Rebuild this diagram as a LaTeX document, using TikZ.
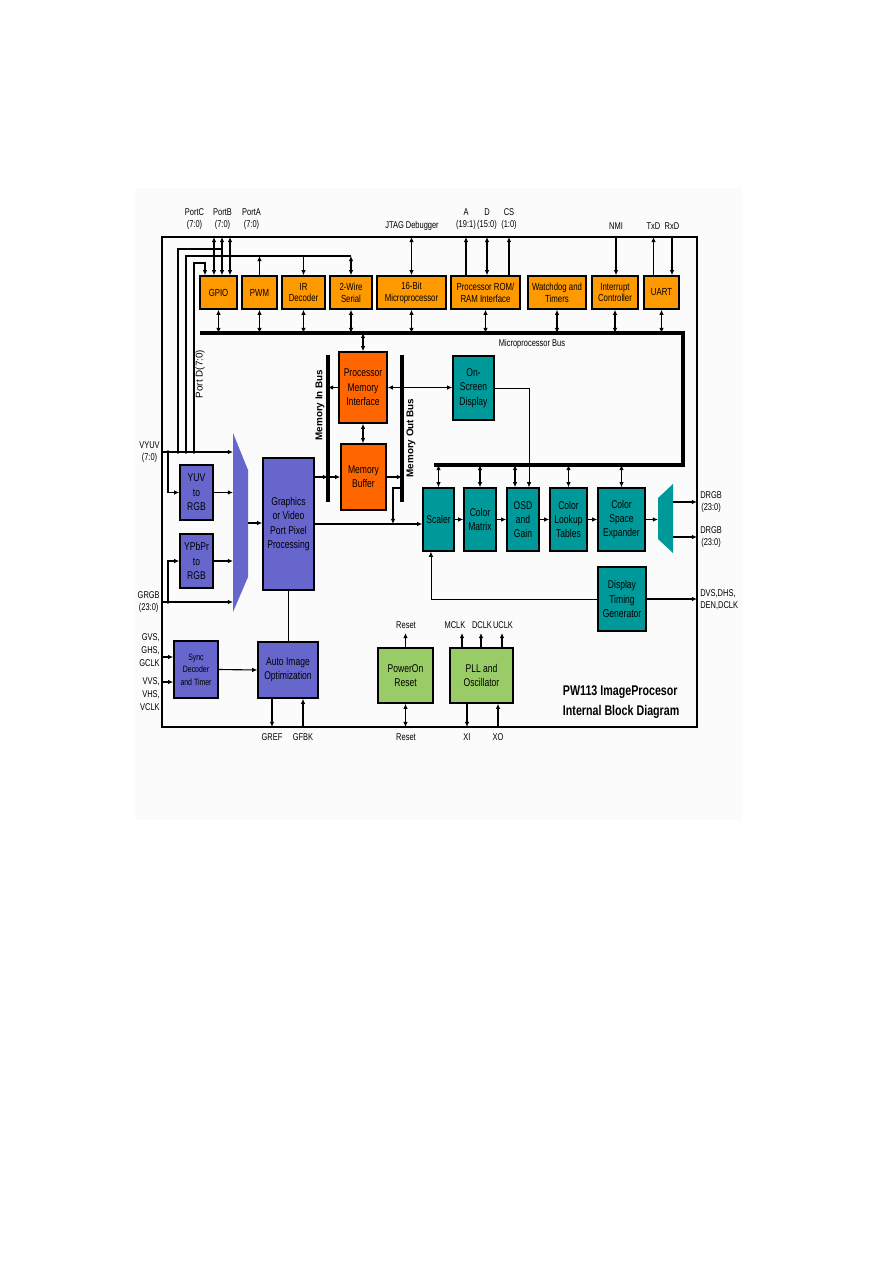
\documentclass[tikz,border=0pt]{standalone}
\usepackage{fontspec}
\setmainfont{Liberation Sans}[FakeStretch=0.76]
\newfontfamily\widesans{Liberation Sans}
\usetikzlibrary{arrows.meta}

\definecolor{procorange}{HTML}{FF9900}
\definecolor{memorange}{HTML}{FF6600}
\definecolor{vidblue}{HTML}{6666CC}
\definecolor{dispteal}{HTML}{009999}
\definecolor{clkgreen}{HTML}{99CC66}

\begin{document}
\begin{tikzpicture}[
    x=0.25mm, y=-0.25mm,
    font=\fontsize{8}{10.2}\selectfont,
    block/.style={rectangle, draw, line width=1pt, align=center, inner sep=0pt},
    cpu/.style={block, fill=procorange, font=\fontsize{7.3}{8.5}\selectfont, minimum height=8.25mm},
    mem/.style={block, fill=memorange},
    vid/.style={block, fill=vidblue},
    disp/.style={block, fill=dispteal},
    clk/.style={block, fill=clkgreen},
    pinlabel/.style={font=\fontsize{7}{8.5}\selectfont, align=center, inner sep=0pt},
    rotlabel/.style={rotate=90, font=\widesans\bfseries\fontsize{7}{8}\selectfont, inner sep=0pt},
    arrow/.style={->, line width=0.8pt},
    dblarrow/.style={<->, line width=0.8pt},
    thinarrow/.style={->, line width=0.5pt},
    wire/.style={line width=0.8pt},
    thinwire/.style={line width=0.5pt},
    bus/.style={line width=2.2pt},
    frame/.style={line width=1.3pt},
    >={Latex[length=1.3mm,width=1.15mm]}
]
    \useasboundingbox (0,0) rectangle (893,1263);
    \fill[gray!3] (135,188) rectangle (742,820);

    % chip outline
    \draw[frame] (162,237) rectangle (697,727);
    \coordinate (ftop) at (0,237);
    \coordinate (fbot) at (0,727);
    \coordinate (fright) at (697,0);

    % processor blocks
    \node[cpu, minimum width=9.25mm] (gpio) at (218.5,292.5) {GPIO};
    \node[cpu, minimum width=8.75mm] (pwm) at (259.5,292.5) {PWM};
    \node[cpu, minimum width=10.75mm] (ir) at (303.5,292.5) {IR\\Decoder};
    \node[cpu, minimum width=10.5mm] (twowire) at (351,292.5) {2-Wire\\Serial};
    \node[cpu, minimum width=17.25mm] (mcu) at (411.5,292.5) {16-Bit\\Microprocessor};
    \node[cpu, minimum width=17.25mm] (rom) at (485.5,292.5) {Processor ROM/\\RAM Interface};
    \node[cpu, minimum width=14.5mm] (wdt) at (557,292.5) {Watchdog and\\Timers};
    \node[cpu, minimum width=11.5mm] (intc) at (615,292.5) {Interrupt\\Controller};
    \node[cpu, minimum width=8.75mm] (uart) at (661.5,292.5) {UART};

    % memory blocks
    \node[mem, minimum width=12mm, minimum height=17.75mm] (pmi) at (363,387.5) {Processor\\Memory\\Interface};
    \node[mem, minimum width=11.25mm, minimum height=16.5mm] (mbuf) at (363.5,477) {Memory\\Buffer};

    % video input blocks
    \node[vid, minimum width=8.25mm, minimum height=13.75mm] (yuv) at (196.5,492.5) {YUV\\to\\RGB};
    \node[vid, minimum width=8.25mm, minimum height=13.5mm] (ypbpr) at (196.5,561) {YPbPr\\to\\RGB};
    \node[vid, minimum width=12.75mm, minimum height=33mm] (gfx) at (288.5,524) {Graphics\\or Video\\Port Pixel\\Processing};
    \node[vid, font=\fontsize{6.5}{9}\selectfont, minimum width=11mm, minimum height=14.25mm] (sync) at (196,669.5) {Sync\\Decoder\\and Timer};
    \node[vid, minimum width=15mm, minimum height=14mm] (aio) at (288,670) {Auto Image\\Optimization};

    % display blocks
    \node[disp, minimum width=10.25mm, minimum height=16mm] (osd) at (473.5,388) {On-\\Screen\\Display};
    \node[disp, minimum width=7.75mm, minimum height=15.75mm] (scaler) at (438.5,519.5) {Scaler};
    \node[disp, minimum width=8mm, minimum height=15.75mm] (cmatrix) at (480,519.5) {Color\\Matrix};
    \node[disp, minimum width=8mm, minimum height=15.75mm] (osdgain) at (523,519.5) {OSD\\and\\Gain};
    \node[disp, minimum width=9.25mm, minimum height=15.75mm] (clut) at (568.5,519.5) {Color\\Lookup\\Tables};
    \node[disp, minimum width=11.75mm, minimum height=15.75mm] (cse) at (621.5,519.5) {Color\\Space\\Expander};
    \node[disp, minimum width=12mm, minimum height=16mm] (dtg) at (622,599) {Display\\Timing\\Generator};

    % clock and reset blocks
    \node[clk, minimum width=13.75mm, minimum height=13.75mm] (por) at (405.5,675.5) {PowerOn\\Reset};
    \node[clk, minimum width=15.75mm, minimum height=13.75mm] (pll) at (481.5,675.5) {PLL and\\Oscillator};

    % multiplexers
    \fill[vidblue] (233,433) -- (248,470) -- (248,577) -- (233,612) -- cycle;
    \coordinate (vmuxL) at (233,523);
    \coordinate (vmuxR) at (248,523);
    \fill[dispteal] (658,498) -- (673,484) -- (673,553) -- (658,539) -- cycle;
    \coordinate (dmuxL) at (658,519.5);
    \coordinate (drgbA) at (673,502);
    \coordinate (drgbB) at (673,537);

    % buses
    \coordinate (mbL) at (200,333);
    \coordinate (mbR) at (683,333);
    \coordinate (dbL) at (434,465);
    \draw[bus] (mbL) -- (mbR) |- (dbL);
    \coordinate (mibT) at (328,355);
    \coordinate (mibB) at (328,502);
    \coordinate (mobT) at (402,355);
    \coordinate (mobB) at (402,502);
    \draw[bus] (mibT) -- (mibB);
    \draw[bus] (mobT) -- (mobB);
    \node[pinlabel] (mblabel) at (532,344) {Microprocessor Bus};
    \node[rotlabel] (miblabel) at (320,405) {Memory In Bus};
    \node[rotlabel] (moblabel) at (411,438) {Memory Out Bus};

    % pin labels
    \node[pinlabel] (portc) at (194.5,219) {PortC\\(7:0)};
    \node[pinlabel] (portb) at (222.5,219) {PortB\\(7:0)};
    \node[pinlabel] (porta) at (251.5,219) {PortA\\(7:0)};
    \node[pinlabel] (jtag) at (412,226) {JTAG Debugger};
    \node[pinlabel] (addr) at (466,219) {A\\(19:1)};
    \node[pinlabel] (data) at (487,219) {D\\(15:0)};
    \node[pinlabel] (cs) at (509,219) {CS\\(1:0)};
    \node[pinlabel] (nmi) at (616,226) {NMI};
    \node[pinlabel] (txd) at (653.5,226) {TxD};
    \node[pinlabel] (rxd) at (672,226) {RxD};
    \node[pinlabel, anchor=east] (vyuvlbl) at (160,452) {VYUV\\(7:0)};
    \node[pinlabel, anchor=east] (grgblbl) at (160,602) {GRGB\\(23:0)};
    \node[pinlabel, anchor=east, align=right, font=\fontsize{7}{9.2}\selectfont] (gsynclbl) at (160,650) {GVS,\\GHS,\\GCLK};
    \node[pinlabel, anchor=east, align=right, font=\fontsize{7}{9.2}\selectfont] (vsynclbl) at (160,694.5) {VVS,\\VHS,\\VCLK};
    \node[rotlabel, font=\widesans\fontsize{7}{8}\selectfont] (pdlabel) at (200,374) {Port D(7:0)};
    \node[pinlabel] (gref) at (272,737) {GREF};
    \node[pinlabel] (gfbk) at (303,737) {GFBK};
    \node[pinlabel] (rstout) at (406,625) {Reset};
    \node[pinlabel] (rstin) at (406,737) {Reset};
    \node[pinlabel] (mclk) at (455,625) {MCLK};
    \node[pinlabel] (dclk) at (482,625) {DCLK};
    \node[pinlabel] (uclk) at (503,625) {UCLK};
    \node[pinlabel] (xi) at (467,737) {XI};
    \node[pinlabel] (xo) at (498,737) {XO};
    \node[pinlabel, anchor=west] (drgbAlbl) at (700,502) {DRGB\\(23:0)};
    \node[pinlabel, anchor=west] (drgbBlbl) at (700,537) {DRGB\\(23:0)};
    \node[pinlabel, anchor=west, align=left] (dtglbl) at (700,600) {DVS,DHS,\\DEN,DCLK};
    \node[anchor=west, align=left, font=\bfseries\fontsize{10}{13.8}\selectfont] (title) at (558,702) {PW113 ImageProcesor\\Internal Block Diagram};

    % microprocessor bus taps
    \foreach \blk in {gpio,pwm,ir,twowire,mcu,rom,wdt,intc,uart}
        \draw[dblarrow] (\blk.south) -- (\blk.south |- mbL);

    % external processor pins
    \draw[dblarrow] (mcu.north |- ftop) -- (mcu.north);
    \draw[arrow] (addr |- rom.north) -- (addr |- ftop);
    \draw[dblarrow] (data |- ftop) -- (data |- rom.north);
    \draw[arrow] (cs |- rom.north) -- (cs |- ftop);
    \draw[arrow] (nmi |- ftop) -- (nmi |- intc.north);
    \draw[arrow] (txd |- uart.north) -- (txd |- ftop);
    \draw[arrow] (rxd |- ftop) -- (rxd |- uart.north);

    % ports
    \coordinate (pc) at (214,237);
    \coordinate (pb) at (222,237);
    \coordinate (pa) at (230,237);
    \foreach \p in {pc,pb,pa}
        \draw[dblarrow] (\p) -- (\p |- gpio.north);
    \coordinate (vyuvtap) at (168,452);
    \coordinate (vyuvB) at (178,452);
    \coordinate (vyuvA) at (186,452);
    \coordinate (vyuvD) at (194,452);
    \coordinate (grgbtap) at (168,602);
    \coordinate (pbtap) at (222,249);
    \coordinate (patap) at (186,256);
    \coordinate (pdtap) at (205,263);
    \draw[wire] (vyuvB) |- (pbtap);
    \draw[wire] (vyuvA) |- (patap -| twowire.north);
    \draw[arrow] (vyuvD) |- (pdtap) -- (pdtap |- gpio.north);
    \draw[arrow] (pwm.north) -- (pwm.north |- patap);
    \draw[arrow] (patap -| ir.north) -- (ir.north);
    \draw[dblarrow] (patap -| twowire.north) -- (twowire.north);

    % video input path
    \coordinate (vyuvin) at (162,452);
    \coordinate (grgbin) at (162,602);
    \draw[arrow] (vyuvin) -- (vyuvin -| vmuxL);
    \draw[arrow] (grgbin) -- (grgbin -| vmuxL);
    \draw[arrow] (vyuvtap) |- (yuv.west);
    \draw[arrow] (grgbtap) |- (ypbpr.west);
    \draw[arrow] (yuv.east) -- (yuv.east -| vmuxL);
    \draw[arrow] (ypbpr.east) -- (ypbpr.east -| vmuxL);
    \draw[arrow] (vmuxR) -- (vmuxR -| gfx.west);
    \foreach \c in {vyuvtap,vyuvB,vyuvA,vyuvD,grgbtap}
        \fill (\c) circle (0.45mm);

    % sync path
    \coordinate (gsyncin) at (162,657);
    \coordinate (vsyncin) at (162,682);
    \draw[arrow] (gsyncin) -- (gsyncin -| sync.west);
    \draw[arrow] (vsyncin) -- (vsyncin -| sync.west);
    \draw[arrow] (sync.east) -- (aio.west);
    \draw[thinwire] (gfx.south) -- (gfx.south |- aio.north);
    \draw[arrow] (gref |- aio.south) -- (gref |- fbot);
    \draw[arrow] (gfbk |- fbot) -- (gfbk |- aio.south);

    % memory path
    \draw[dblarrow] (pmi.north) -- (pmi.north |- mbL);
    \draw[dblarrow] (pmi.south) -- (pmi.south |- mbuf.north);
    \draw[arrow] (pmi.west) -- (pmi.west -| mibT);
    \draw[arrow] (pmi.east -| mobT) -- (pmi.east);
    \draw[arrow] (pmi.east -| mobT) -- (pmi.east -| osd.west);
    \draw[arrow] (mbuf.west -| gfx.east) -- (mbuf.west -| mibT);
    \draw[arrow] (mbuf.west -| mibT) -- (mbuf.west);
    \draw[arrow] (mbuf.east) -- (mbuf.east -| mobT);
    \coordinate (mobtap) at (402,488);
    \coordinate (scltap) at (393,524);
    \draw[arrow] (mobtap) -| (scltap);

    % display path
    \draw[arrow] (gfx.east) -- (gfx.east -| scaler.west);
    \draw[arrow] (scaler.east) -- (cmatrix.west);
    \draw[arrow] (cmatrix.east) -- (osdgain.west);
    \draw[arrow] (osdgain.east) -- (clut.west);
    \draw[arrow] (clut.east) -- (cse.west);
    \draw[arrow] (cse.east) -- (dmuxL);
    \draw[arrow] (drgbA) -- (drgbA -| fright);
    \draw[arrow] (drgbB) -- (drgbB -| fright);
    \foreach \blk in {scaler,cmatrix,clut,cse}
        \draw[dblarrow] (\blk.north) -- (\blk.north |- dbL);
    \draw[dblarrow] ([xshift=-2mm]osdgain.north) -- ([xshift=-2mm]osdgain.north |- dbL);
    \draw[thinarrow] (osd.east) -| ([xshift=1.5mm]osdgain.north);
    \draw[thinarrow] (dtg.west) -| ([xshift=-1.9mm]scaler.south);
    \draw[arrow] (dtg.east) -- (dtg.east -| fright);

    % clocks and reset
    \coordinate (mclkpin) at (462,633);
    \coordinate (dclkpin) at (481,633);
    \coordinate (uclkpin) at (502,633);
    \draw[arrow] (por.north) -- (por.north |- mclkpin);
    \draw[dblarrow] (por.south) -- (por.south |- fbot);
    \foreach \p in {mclkpin,dclkpin,uclkpin}
        \draw[arrow] (\p |- pll.north) -- (\p);
    \draw[arrow] (xi |- pll.south) -- (xi |- fbot);
    \draw[arrow] (xo |- fbot) -- (xo |- pll.south);
\end{tikzpicture}
\end{document}
